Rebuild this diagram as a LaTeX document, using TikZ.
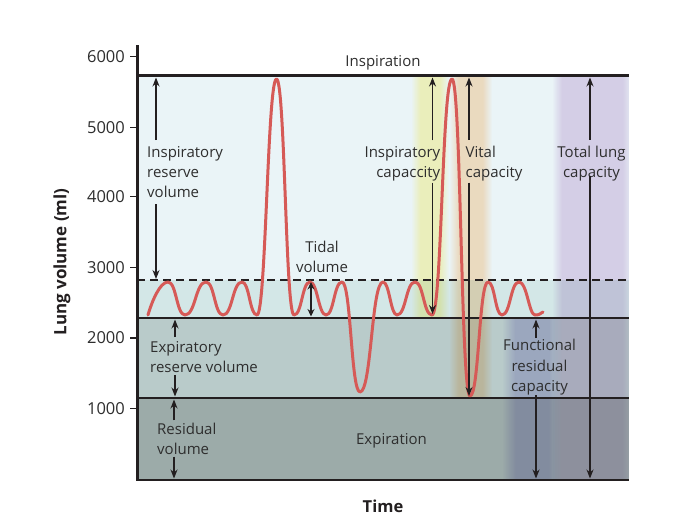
\documentclass[tikz,border=0pt]{standalone}
\usepackage{fontspec}
\setmainfont{Open Sans}
\usetikzlibrary{arrows.meta}
\definecolor{bgA}{HTML}{EAF4F7}
\definecolor{bgB}{HTML}{D3E7E7}
\definecolor{bgC}{HTML}{B9CBCA}
\definecolor{bgD}{HTML}{9CABA9}
\definecolor{bandY}{HTML}{FFF9C2}
\definecolor{bandO}{HTML}{FFE4C6}
\definecolor{bandP}{HTML}{E8D8EE}
\definecolor{bandF}{HTML}{D6D2F0}
\definecolor{curvecol}{HTML}{D65A57}
\definecolor{ink}{HTML}{231F20}
\definecolor{txt}{HTML}{2E2E2E}
% a shading's central 50bp x 50bp square (25bp..75bp) is fitted to the path
\pgfdeclarehorizontalshading{shY}{100bp}{color(0bp)=(white); color(25bp)=(white); color(37bp)=(bandY); color(63bp)=(bandY); color(75bp)=(white); color(100bp)=(white)}
\pgfdeclarehorizontalshading{shO}{100bp}{color(0bp)=(white); color(25bp)=(white); color(36bp)=(bandO); color(64bp)=(bandO); color(75bp)=(white); color(100bp)=(white)}
\pgfdeclarehorizontalshading{shP}{100bp}{color(0bp)=(white); color(25bp)=(white); color(31bp)=(bandP); color(68bp)=(bandP); color(75bp)=(white); color(100bp)=(white)}
\pgfdeclarehorizontalshading{shF}{100bp}{color(0bp)=(white); color(25bp)=(white); color(36bp)=(bandF); color(64bp)=(bandF); color(75bp)=(white); color(100bp)=(white)}
\tikzset{
  lbl/.style={font=\fontsize{15}{20.3}\selectfont, inner sep=0pt, text=txt},
  ticklbl/.style={font=\fontsize{16.5}{18}\selectfont, inner sep=0pt, text=txt, anchor=east},
  ttl/.style={font=\bfseries\fontsize{17}{19}\selectfont, inner sep=0pt, text=ink},
  hline/.style={draw=ink, line width=2.6pt},
  dashline/.style={draw=ink, line width=1.2pt, dash pattern=on 8pt off 5pt},
  tickline/.style={draw=ink, line width=1.3pt},
  curve/.style={draw=curvecol, line width=3pt, line cap=round, line join=round},
  arr/.style={draw=ink, line width=1.1pt, -{Stealth[length=9pt,width=7pt]}},
  darr/.style={draw=ink, line width=1.1pt, {Stealth[length=7.5pt,width=7pt]}-{Stealth[length=7.5pt,width=7pt]}}
}
\begin{document}
\begin{tikzpicture}[x=1pt,y=-1pt]
\useasboundingbox[fill=white] (0,0) rectangle (690,520);
% regions
\fill[bgA] (137,75.5) rectangle (629,280);
\fill[bgB] (137,280) rectangle (629,318);
\fill[bgC] (137,318) rectangle (629,398);
\fill[bgD] (137,398) rectangle (629,480);
% coloured bands
\begin{scope}[blend mode=multiply]
  \shade[shading=shY] (411,76) rectangle (449,317);
  \shade[shading=shO] (449,76) rectangle (492,397);
  \shade[shading=shF] (502,319) rectangle (562,479);
  \shade[shading=shP] (552,76) rectangle (634,479);
\end{scope}
\fill[white] (629,40) rectangle (640,490);
% lines
\draw[dashline] (137,280) -- (629,280);
\draw[hline] (137,75.5) -- (629,75.5);
\draw[hline] (137,318) -- (629,318);
\draw[hline] (137,398) -- (629,398);
\draw[hline] (137,480) -- (629,480);
\draw[draw=ink, line width=3pt] (137,45) -- (137,481.3);
% ticks
\foreach \v/\yy in {6000/56.8,5000/127.3,4000/196.5,3000/267.2,2000/338,1000/408.5}{
  \draw[tickline] (130,\yy) -- (137,\yy);
  \node[ticklbl] (t\v) at (125,\yy) {\v};
}
% breathing curve
\draw[curve] (148,315) .. controls +(4,-14) and +(-8,0) .. (168,282)
 .. controls +(8.5,0) and +(-8.5,0) .. (185,315)
 .. controls +(10.5,0) and +(-10.5,0) .. (206,282)
 .. controls +(8.5,0) and +(-8.5,0) .. (223,315)
 .. controls +(9.5,0) and +(-9.5,0) .. (242,282)
 .. controls +(7.5,0) and +(-7.5,0) .. (257,315)
 .. controls +(9,0) and +(-9,0) .. (276.5,79)
 .. controls +(8.5,0) and +(-8.5,0) .. (294,315)
 .. controls +(8,0) and +(-8,0) .. (310,282)
 .. controls +(7.5,0) and +(-7.5,0) .. (326,315)
 .. controls +(8,0) and +(-8,0) .. (342,282)
 .. controls +(9,0) and +(-9,0) .. (360,392)
 .. controls +(11.5,0) and +(-11.5,0) .. (383,282)
 .. controls +(6.5,0) and +(-6.5,0) .. (397,315)
 .. controls +(9,0) and +(-9,0) .. (415,282)
 .. controls +(8.5,0) and +(-8.5,0) .. (432,315)
 .. controls +(10,0) and +(-10,0) .. (452,79)
 .. controls +(9,0) and +(-9,0) .. (470,396)
 .. controls +(9,0) and +(-9,0) .. (488,282)
 .. controls +(7,0) and +(-7,0) .. (502,315)
 .. controls +(8.5,0) and +(-8.5,0) .. (519,282)
 .. controls +(8,0) and +(-6,0) .. (535,315)
 .. controls +(4,0) and +(-3,2) .. (543,312);
% arrow end points
\coordinate (irvTop) at (156,77.5);
\coordinate (irvBot) at (156,279);
\coordinate (tvTop) at (311,282);
\coordinate (tvBot) at (311,316.5);
\coordinate (icTop) at (432.5,77.5);
\coordinate (icBot) at (432.5,314);
\coordinate (vcTop) at (469,77.5);
\coordinate (vcBot) at (469,396);
\coordinate (tlcTop) at (590,77.5);
\coordinate (tlcBot) at (590,478.5);
\coordinate (frcTop) at (536,319.5);
\coordinate (frcBot) at (536,478.5);
\coordinate (ervTop) at (175,319.5);
\coordinate (ervBot) at (175,396.5);
\coordinate (rvTop) at (174,399.5);
\coordinate (rvBot) at (174,478.5);
% labels (base = baseline of the last line)
\node[lbl, anchor=base] (insp) at (383,66.7) {Inspiration};
\node[lbl, anchor=base] (exp) at (391.5,444.3) {Expiration};
\node[lbl, align=left, anchor=base west] (irv) at (147,197.9) {Inspiratory\\reserve\\volume};
\node[lbl, align=center, anchor=base] (tv) at (322,272.6) {Tidal\\volume};
\node[lbl, align=right, anchor=base east] (ic) at (440.5,177.8) {Inspiratory\\capaccity};
\node[lbl, align=left, anchor=base west] (vc) at (465.5,177.8) {Vital\\capacity};
\node[lbl, align=center, anchor=base] (tlc) at (591.5,177.8) {Total lung\\capacity};
\node[lbl, align=center, anchor=base] (frc) at (539.5,391.4) {Functional\\residual\\capacity};
\node[lbl, align=left, anchor=base west] (erv) at (150,372.6) {Expiratory\\reserve volume};
\node[lbl, align=left, anchor=base west] (rv) at (157,454.3) {Residual\\volume};
\node[ttl, rotate=90] (ylab) at (62,262) {Lung volume (ml)};
\node[ttl, font=\bfseries\fontsize{16.5}{19}\selectfont] (xlab) at (383,506) {Time};
% arrows
\draw[arr] ([yshift=6pt]irv.north -| irvTop) -- (irvTop);
\draw[arr] ([yshift=-6pt]irv.south -| irvBot) -- (irvBot);
\draw[darr] (tvTop) -- (tvBot);
\draw[arr] ([yshift=6pt]ic.north -| icTop) -- (icTop);
\draw[arr] ([yshift=-1pt]ic.south -| icBot) -- (icBot);
\draw[arr] ([yshift=6pt]vc.north -| vcTop) -- (vcTop);
\draw[arr] ([yshift=-1pt]vc.south -| vcBot) -- (vcBot);
\draw[arr] ([yshift=6pt]tlc.north -| tlcTop) -- (tlcTop);
\draw[arr] ([yshift=6pt]tlc.south -| tlcBot) -- (tlcBot);
\draw[arr] ([yshift=1pt]frc.north -| frcTop) -- (frcTop);
\draw[arr] (frc.south -| frcBot) -- (frcBot);
\draw[arr] ([yshift=4pt]erv.north -| ervTop) -- (ervTop);
\draw[arr] ([yshift=-2pt]erv.south -| ervBot) -- (ervBot);
\draw[arr] ([yshift=2pt]rv.north -| rvTop) -- (rvTop);
\draw[arr] ([yshift=-2pt]rv.south -| rvBot) -- (rvBot);
\end{tikzpicture}
\end{document}
